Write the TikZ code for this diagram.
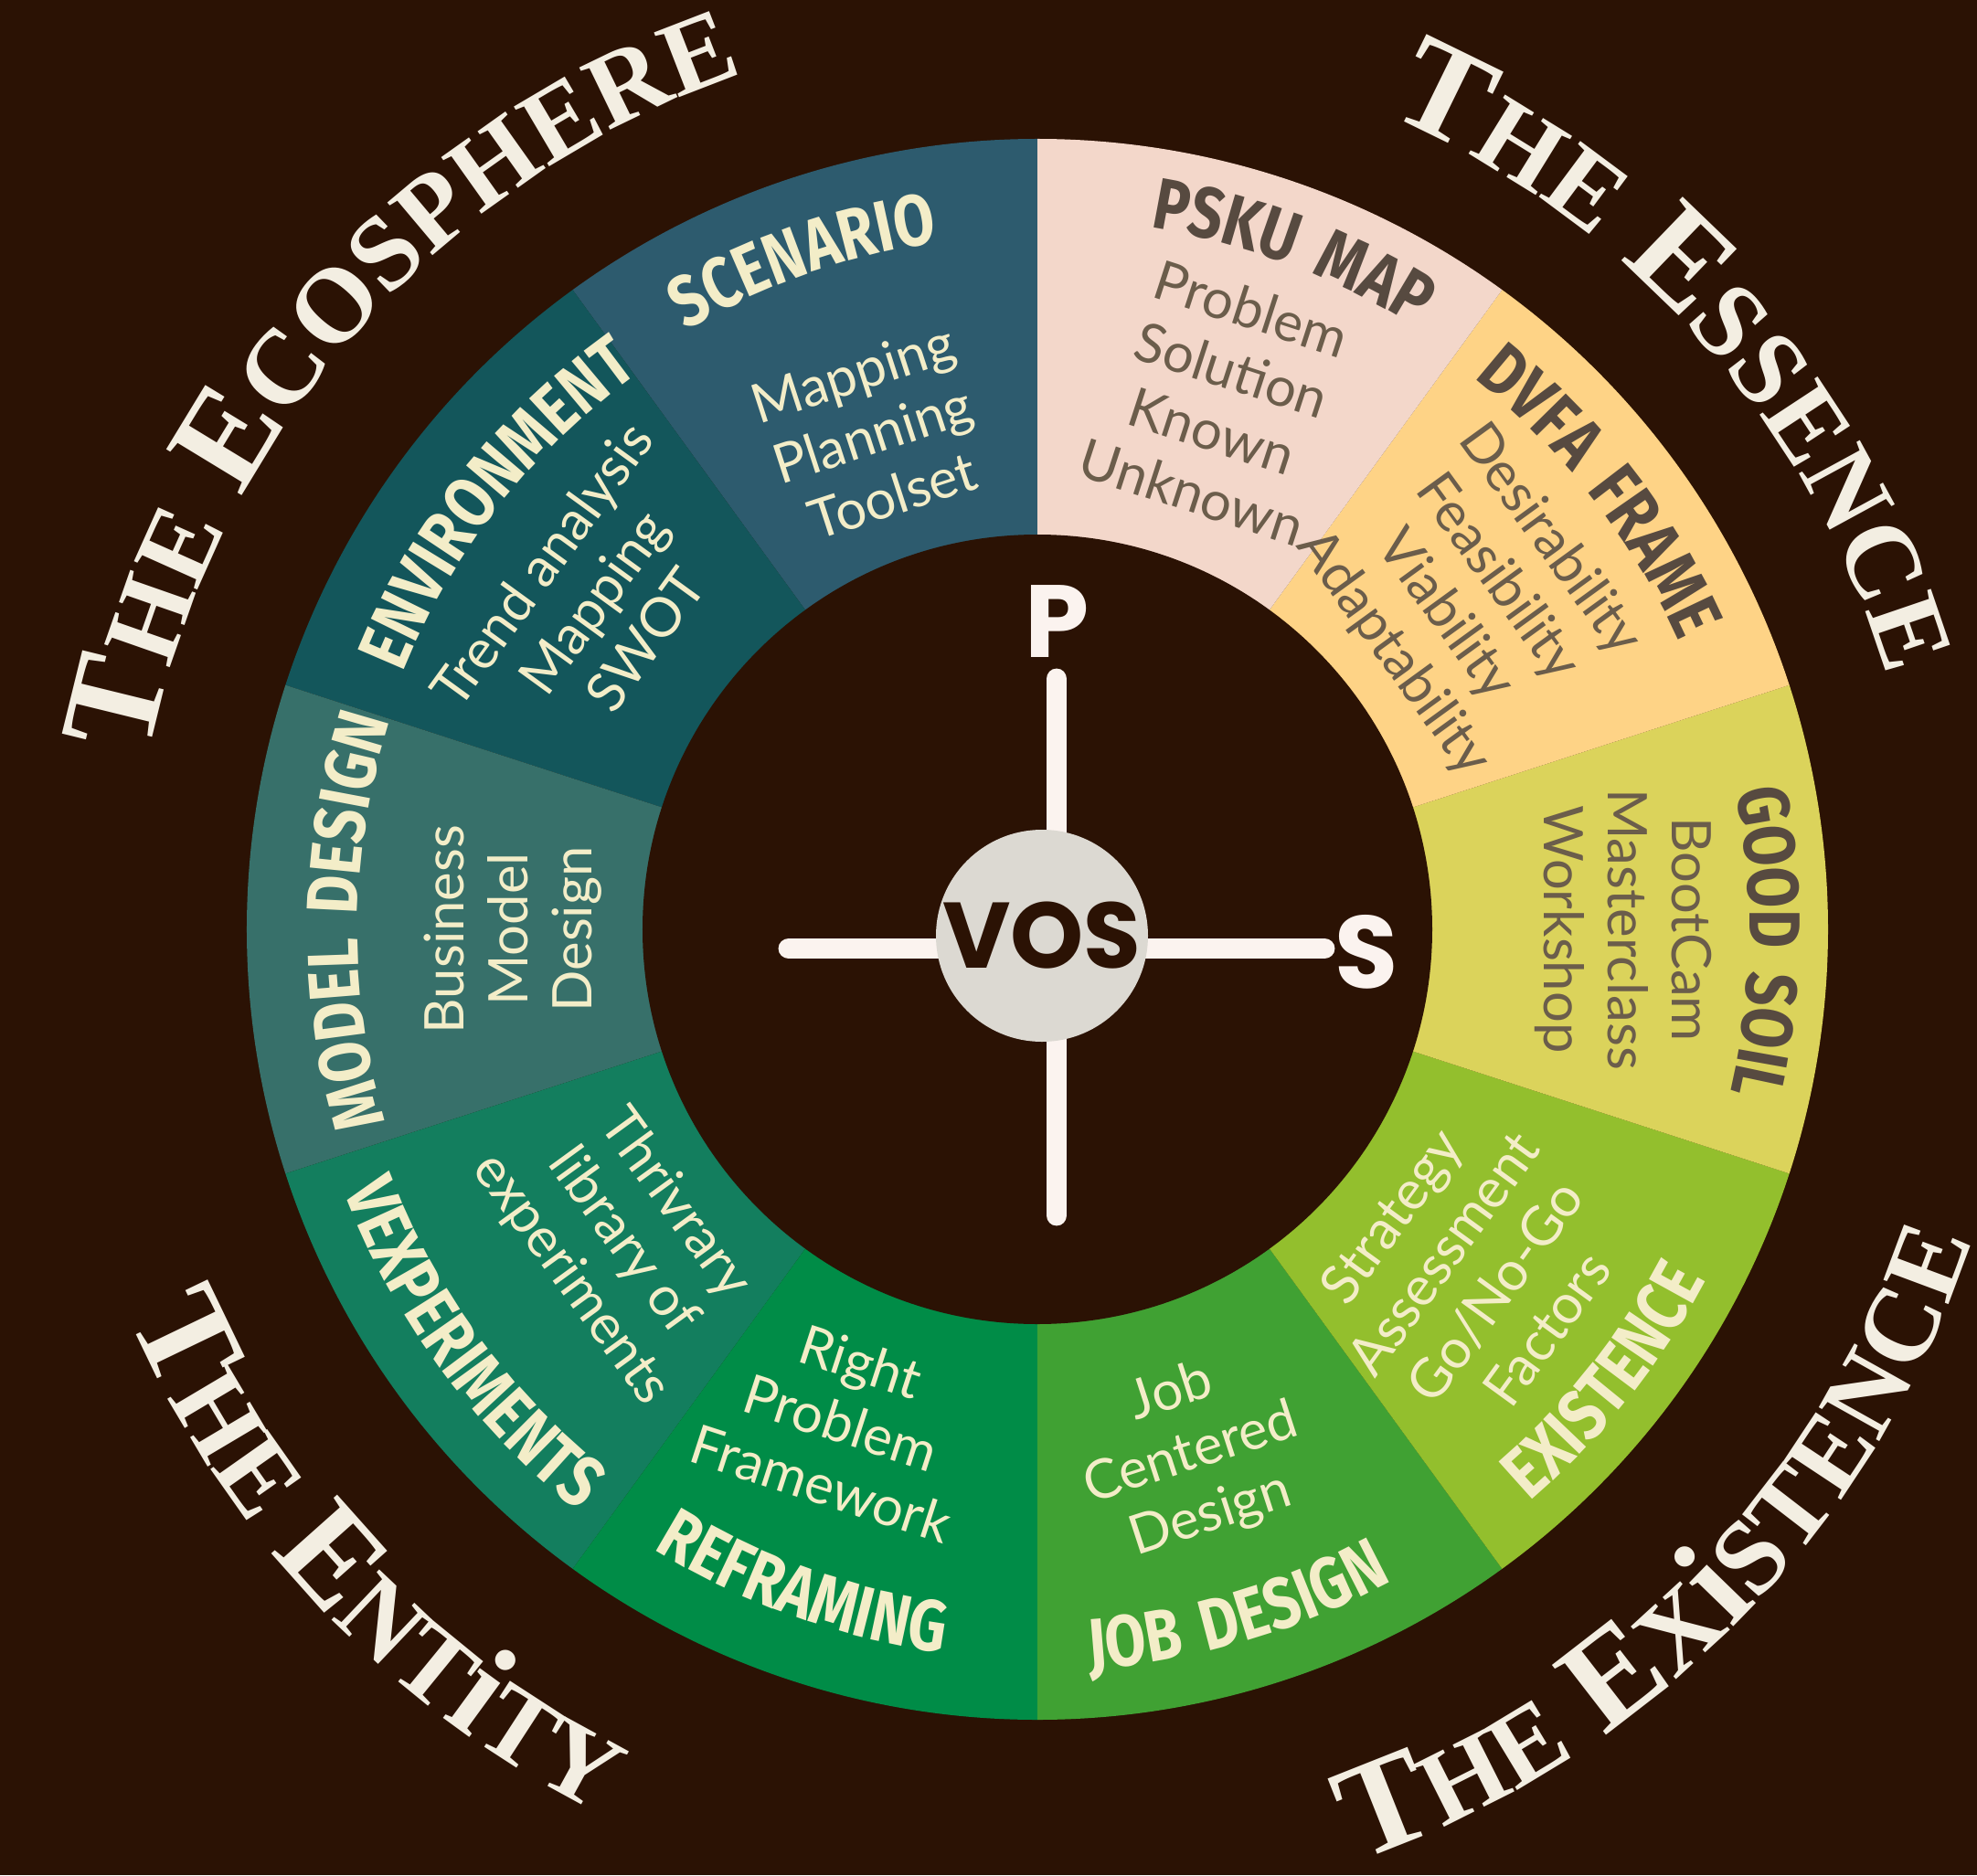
\documentclass[tikz,border=0pt]{standalone}
\usepackage{fontspec}
\usepackage{tikz}
\usetikzlibrary{decorations.text}

\newfontfamily\bodyfont{Lato}
\newfontfamily\titlefont{Fira Sans}[FakeStretch=0.82, LetterSpace=12]
\newfontfamily\outerfont{Liberation Serif}[LetterSpace=6]
\newfontfamily\hubfont{Poppins}

\definecolor{bgbrown}{HTML}{2B1204}
\definecolor{cream}{HTML}{F3EDC8}
\definecolor{outercream}{HTML}{F3EEE2}
\definecolor{titleink}{HTML}{574A40}
\definecolor{bodyink}{HTML}{6B5D4B}
\definecolor{crosswhite}{HTML}{FBF3EF}
\definecolor{hubgrey}{HTML}{DCD9D2}
\definecolor{segscenario}{HTML}{2D5B6E}
\definecolor{segenviron}{HTML}{13565B}
\definecolor{segmodel}{HTML}{37706A}
\definecolor{segvexp}{HTML}{137E5E}
\definecolor{segreframe}{HTML}{008C47}
\definecolor{segjob}{HTML}{40A133}
\definecolor{segexist}{HTML}{93BF2D}
\definecolor{segsoil}{HTML}{DBD35B}
\definecolor{segdvfa}{HTML}{FED386}
\definecolor{segpsku}{HTML}{F3D7CA}

\newcommand{\titlelight}{\titlefont\bfseries\fontsize{22.5}{22.5}\selectfont\color{cream}}
\newcommand{\titledark}{\titlefont\bfseries\fontsize{22.5}{22.5}\selectfont\color{titleink}}
\newcommand{\outerbig}{\outerfont\bfseries\fontsize{42}{42}\selectfont\color{outercream}}
\newcommand{\outersmall}{\outerfont\bfseries\fontsize{33}{33}\selectfont\color{outercream}}

\begin{document}
\begin{tikzpicture}[
  segtext/.style={align=center, inner sep=0pt, font=\bodyfont\fontsize{17}{20}\selectfont},
  lighttext/.style={segtext, text=cream},
  darktext/.style={segtext, text=bodyink},
  crossarm/.style={line width=6.5pt, line cap=round, draw=crosswhite}
]
  \fill [bgbrown] (-11.35,-10.35) rectangle (10.28,10.17);
  \useasboundingbox (-11.35,-10.35) rectangle (10.28,10.17);

  \fill [segscenario] (0,0) -- (90:8.65) arc [start angle=90, end angle=126, radius=8.65] -- cycle;
  \fill [segenviron] (0,0) -- (126:8.65) arc [start angle=126, end angle=162, radius=8.65] -- cycle;
  \fill [segmodel] (0,0) -- (162:8.65) arc [start angle=162, end angle=198, radius=8.65] -- cycle;
  \fill [segvexp] (0,0) -- (198:8.65) arc [start angle=198, end angle=234, radius=8.65] -- cycle;
  \fill [segreframe] (0,0) -- (234:8.65) arc [start angle=234, end angle=270, radius=8.65] -- cycle;
  \fill [segjob] (0,0) -- (270:8.65) arc [start angle=270, end angle=306, radius=8.65] -- cycle;
  \fill [segexist] (0,0) -- (306:8.65) arc [start angle=306, end angle=342, radius=8.65] -- cycle;
  \fill [segsoil] (0,0) -- (342:8.65) arc [start angle=342, end angle=378, radius=8.65] -- cycle;
  \fill [segdvfa] (0,0) -- (18:8.65) arc [start angle=18, end angle=54, radius=8.65] -- cycle;
  \fill [segpsku] (0,0) -- (54:8.65) arc [start angle=54, end angle=90, radius=8.65] -- cycle;
  \fill [bgbrown] (0,0) circle [radius=4.32];

  \node (scenariotxt) at (108.4:5.71) [lighttext, rotate=18] {Mapping\\Planning\\Toolset};
  \node (environtxt) at (143.6:6.04) [lighttext, rotate=54] {Trend analysis\\Mapping\\SWOT};
  \node (modeltxt) at (180:5.74) [lighttext, rotate=90] {Business\\Model\\Design};
  \node (vexptxt) at (217:5.68) [lighttext, rotate=-54] {Thrivrary\\library of\\experiments};
  \node (reframetxt) at (248.3:5.81) [lighttext, rotate=-18] {Right\\Problem\\Framework};
  \node (jobtxt) at (286.3:5.99) [lighttext, rotate=18] {Job\\Centered\\Design};
  \node (existtxt) at (321.5:6.03) [lighttext, rotate=54] {Strategy\\Assessment\\Go/No-Go\\Factors};
  \node (soiltxt) at (0:6.41) [darktext, rotate=-90] {BootCam\\Masterclass\\Workshop};
  \node (dvfatxt) at (37.5:5.98) [darktext, rotate=-54] {Desirability\\Feasibility\\Viability\\Adaptability};
  \node (pskutxt) at (70.8:6.13) [darktext, rotate=-18] {Problem\\Solution\\Known\\Unknown};

  \path [decorate, decoration={text along path, text align=center, text={|\titlelight|SCENARIO}}]
    (139.3:7.60) arc [start angle=139.3, end angle=79.3, radius=7.60];
  \path [decorate, decoration={text along path, text align=center, text={|\titlelight|ENVIRONMENT}}]
    (171.8:7.49) arc [start angle=171.8, end angle=111.8, radius=7.49];
  \path [decorate, decoration={text along path, text align=center, text={|\titlelight|MODEL DESIGN}}]
    (209.3:7.44) arc [start angle=209.3, end angle=149.3, radius=7.44];
  \path [decorate, decoration={text along path, text align=center, text={|\titlelight|VEXPERIMENTS}}]
    (186.2:8.11) arc [start angle=186.2, end angle=246.2, radius=8.11];
  \path [decorate, decoration={text along path, text align=center, text={|\titlelight|REFRAMING}}]
    (220.4:7.98) arc [start angle=220.4, end angle=280.4, radius=7.98];
  \path [decorate, decoration={text along path, text align=center, text={|\titlelight|JOB DESIGN}}]
    (256.3:8.12) arc [start angle=256.3, end angle=316.3, radius=8.12];
  \path [decorate, decoration={text along path, text align=center, text={|\titlelight|EXISTENCE}}]
    (-68.5:8.26) arc [start angle=-68.5, end angle=-8.5, radius=8.26];
  \path [decorate, decoration={text along path, text align=center, text={|\titledark|GOOD SOIL}}]
    (29:7.79) arc [start angle=29, end angle=-31, radius=7.79];
  \path [decorate, decoration={text along path, text align=center, text={|\titledark|DVFA FRAME}}]
    (67.9:7.69) arc [start angle=67.9, end angle=7.9, radius=7.69];
  \path [decorate, decoration={text along path, text align=center, text={|\titledark|PSKU MAP}}]
    (99.4:7.78) arc [start angle=99.4, end angle=39.4, radius=7.78];

  \path [decorate, decoration={text along path, text align=center,
      text={|\outerbig|T|\outersmall|HE |\outerbig|E|\outersmall|COSPHERE}}]
    (184:9.9) arc [start angle=184, end angle=94, radius=9.9];
  \path [decorate, decoration={text along path, text align=center,
      text={|\outerbig|T|\outersmall|HE |\outerbig|E|\outersmall|SSENCE}}]
    (86.7:9.7) arc [start angle=86.7, end angle=-3.3, radius=9.7];
  \path [decorate, decoration={text along path, text align=center,
      text={|\outerbig|T|\outersmall|HE |\outerbig|E|\outersmall|X|\outerbig|i|\outersmall|STENCE}}]
    (-89.7:10.78) arc [start angle=-89.7, end angle=0.3, radius=10.78];
  \path [decorate, decoration={text along path, text align=center,
      text={|\outerbig|T|\outersmall|HE |\outerbig|E|\outersmall|NT|\outerbig|i|\outersmall|TY}}]
    (178.3:10.8) arc [start angle=178.3, end angle=268.3, radius=10.8];

  \coordinate (armW) at (-2.72,-0.21);
  \coordinate (armE) at (3.14,-0.21);
  \coordinate (armN) at (0.21,2.74);
  \coordinate (armS) at (0.21,-3.13);
  \draw [crossarm] (armW) -- (armE);
  \draw [crossarm] (armN) -- (armS);
  \node (hub) at (0.05,-0.07) [circle, fill=hubgrey, minimum size=2.32cm, inner sep=0pt,
    text=bgbrown, font=\hubfont\bfseries\fontsize{29}{29}\selectfont] {VOS};
  \node (plabel) at (0.22,3.37) [text=crosswhite, font=\hubfont\bfseries\fontsize{32}{32}\selectfont] {P};
  \node (slabel) at (3.60,-0.25) [text=crosswhite, font=\hubfont\bfseries\fontsize{32}{32}\selectfont] {S};
\end{tikzpicture}
\end{document}
